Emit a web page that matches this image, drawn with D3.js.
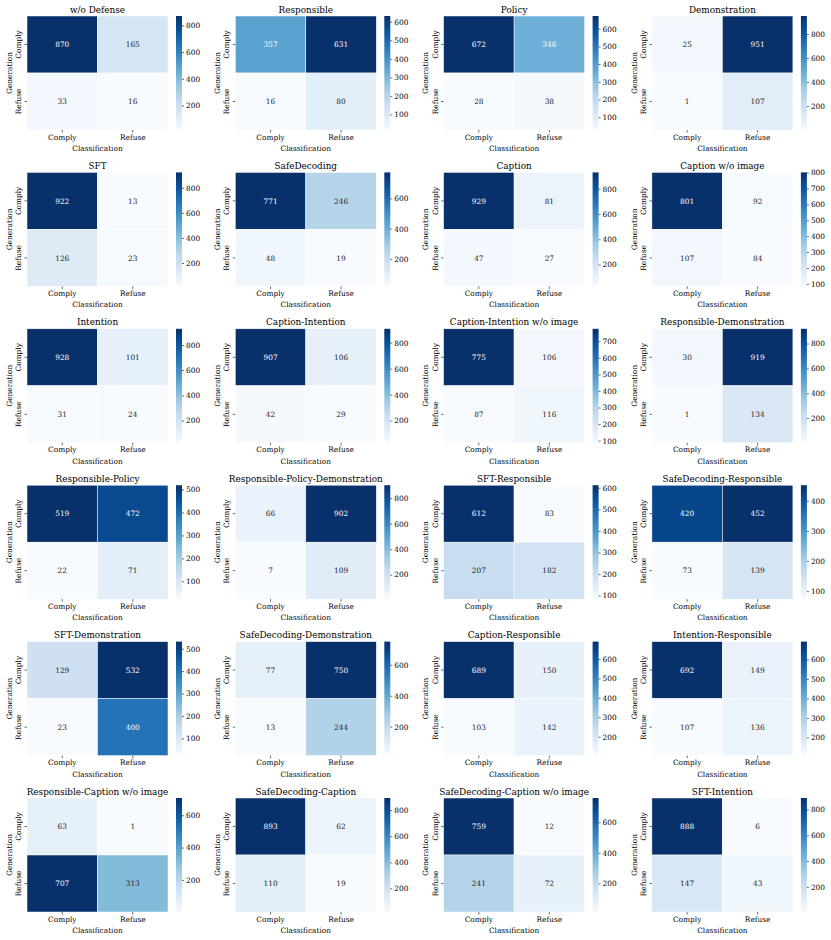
<!DOCTYPE html>
<html>
<head>
<meta charset="utf-8">
<script src="https://cdn.jsdelivr.net/npm/d3@7"></script>
<style>
  body { margin: 0; background: #fff; }
  svg { display: block; font-family: "DejaVu Serif", serif; }
</style>
</head>
<body>
<svg id="chart"></svg>
<script>
// Panel titles (row by row)
const titles = [
    "w/o Defense", "Responsible", "Policy", "Demonstration",
    "SFT", "SafeDecoding", "Caption", "Caption w/o image",
    "Intention", "Caption-Intention", "Caption-Intention w/o image", "Responsible-Demonstration",
    "Responsible-Policy", "Responsible-Policy-Demonstration", "SFT-Responsible", "SafeDecoding-Responsible",
    "SFT-Demonstration", "SafeDecoding-Demonstration", "Caption-Responsible", "Intention-Responsible",
    "Responsible-Caption w/o image", "SafeDecoding-Caption", "SafeDecoding-Caption w/o image", "SFT-Intention"
];

// Confusion counts: [Comply/Comply, Comply/Refuse, Refuse/Comply, Refuse/Refuse]
const counts = [
    [870, 165, 33, 16], [357, 631, 16, 80], [672, 346, 28, 38], [25, 951, 1, 107],
    [922, 13, 126, 23], [771, 246, 48, 19], [929, 81, 47, 27], [801, 92, 107, 84],
    [928, 101, 31, 24], [907, 106, 42, 29], [775, 106, 87, 116], [30, 919, 1, 134],
    [519, 472, 22, 71], [66, 902, 7, 109], [612, 83, 207, 182], [420, 452, 73, 139],
    [129, 532, 23, 400], [77, 750, 13, 244], [689, 150, 103, 142], [692, 149, 107, 136],
    [63, 1, 707, 313], [893, 62, 110, 19], [759, 12, 241, 72], [888, 6, 147, 43]
];

// Colorbar tick labels for each panel
const cbarTicks = [
    [200, 400, 600, 800], [100, 200, 300, 400, 500, 600], [100, 200, 300, 400, 500, 600], [200, 400, 600, 800],
    [200, 400, 600, 800], [200, 400, 600], [200, 400, 600, 800], [100, 200, 300, 400, 500, 600, 700, 800],
    [200, 400, 600, 800], [200, 400, 600, 800], [100, 200, 300, 400, 500, 600, 700], [200, 400, 600, 800],
    [100, 200, 300, 400, 500], [200, 400, 600, 800], [100, 200, 300, 400, 500, 600], [100, 200, 300, 400],
    [100, 200, 300, 400, 500], [200, 400, 600], [200, 300, 400, 500, 600], [200, 300, 400, 500, 600],
    [200, 400, 600], [200, 400, 600, 800], [200, 400, 600], [200, 400, 600, 800]
];

const rowLabels = ["Comply", "Refuse"];   // Generation
const colLabels = ["Comply", "Refuse"];   // Classification

// Layout
const W = 831, H = 940;
const nCols = 4;
const mapW = 141, mapH = 114;
const left0 = 27, top0 = 16;
const colStep = 208.3, rowStep = 156.4;
const cbarGap = 8, cbarW = 6;
const tickFont = 7.4, titleFont = 8.9;

const blues = d3.schemeBlues[9];

const svg = d3.select("#chart")
    .attr("width", W)
    .attr("height", H);

// vertical gradient for the colorbars (same colormap for all)
const grad = svg.append("defs").append("linearGradient")
    .attr("id", "blues-grad")
    .attr("x1", 0).attr("y1", 1).attr("x2", 0).attr("y2", 0);
blues.forEach((c, i) => {
    grad.append("stop")
        .attr("offset", (i / (blues.length - 1) * 100) + "%")
        .attr("stop-color", c);
});

// seaborn picks the annotation colour from the luminance of the cell
function luminance(col) {
    const c = d3.rgb(col);
    const lin = v => {
        v = v / 255;
        return v <= 0.03928 ? v / 12.92 : Math.pow((v + 0.055) / 1.055, 2.4);
    };
    return 0.2126 * lin(c.r) + 0.7152 * lin(c.g) + 0.0722 * lin(c.b);
}

titles.forEach((title, k) => {
    const vals = counts[k];
    const ci = k % nCols, ri = Math.floor(k / nCols);
    const g = svg.append("g")
        .attr("transform", `translate(${left0 + ci * colStep},${top0 + ri * rowStep})`);

    const vmin = d3.min(vals), vmax = d3.max(vals);
    const color = d3.scaleLinear()
        .domain(blues.map((_, i) => vmin + i * (vmax - vmin) / (blues.length - 1)))
        .range(blues);

    const x = d3.scaleBand().domain(colLabels).range([0, mapW]);
    const y = d3.scaleBand().domain(rowLabels).range([0, mapH]);

    const cells = [];
    rowLabels.forEach((r, i) => colLabels.forEach((c, j) => {
        cells.push({ row: r, col: c, value: vals[i * 2 + j] });
    }));

    // heatmap cells
    g.selectAll(".cell")
        .data(cells)
        .enter().append("rect")
        .attr("class", "cell")
        .attr("x", d => x(d.col))
        .attr("y", d => y(d.row))
        .attr("width", x.bandwidth())
        .attr("height", y.bandwidth())
        .attr("fill", d => color(d.value))
        .attr("stroke", "#fff")
        .attr("stroke-width", 0.5);

    // annotations
    g.selectAll(".annot")
        .data(cells)
        .enter().append("text")
        .attr("class", "annot")
        .attr("x", d => x(d.col) + x.bandwidth() / 2)
        .attr("y", d => y(d.row) + y.bandwidth() / 2)
        .attr("dy", "0.36em")
        .attr("text-anchor", "middle")
        .style("font-size", tickFont + "px")
        .style("fill", d => luminance(color(d.value)) > 0.408 ? "#262626" : "#fff")
        .text(d => d.value);

    // x axis
    const xAxis = g.append("g")
        .attr("transform", `translate(0,${mapH})`)
        .call(d3.axisBottom(x).tickSize(2.5).tickPadding(1.8));
    xAxis.select(".domain").remove();
    xAxis.selectAll("line").attr("stroke", "#000").attr("stroke-width", 0.6);
    xAxis.selectAll("text")
        .attr("fill", "#000")
        .style("font-size", tickFont + "px")
        .style("font-family", "DejaVu Serif");

    // y axis with rotated labels
    const yAxis = g.append("g")
        .call(d3.axisLeft(y).tickSize(2.5));
    yAxis.select(".domain").remove();
    yAxis.selectAll("line").attr("stroke", "#000").attr("stroke-width", 0.6);
    yAxis.selectAll("text")
        .attr("x", null)
        .attr("dy", null)
        .attr("text-anchor", "middle")
        .attr("transform", "translate(-6,0) rotate(-90)")
        .attr("fill", "#000")
        .style("font-size", tickFont + "px")
        .style("font-family", "DejaVu Serif");

    // axis titles
    g.append("text")
        .attr("x", mapW / 2)
        .attr("y", mapH + 21)
        .attr("text-anchor", "middle")
        .style("font-size", tickFont + "px")
        .text("Classification");

    g.append("text")
        .attr("transform", `translate(-15.3,${mapH / 2}) rotate(-90)`)
        .attr("text-anchor", "middle")
        .style("font-size", tickFont + "px")
        .text("Generation");

    // panel title
    g.append("text")
        .attr("x", mapW / 2)
        .attr("y", -3.5)
        .attr("text-anchor", "middle")
        .style("font-size", titleFont + "px")
        .text(title);

    // colorbar
    const cb = g.append("g").attr("transform", `translate(${mapW + cbarGap},0)`);
    cb.append("rect")
        .attr("width", cbarW)
        .attr("height", mapH)
        .attr("fill", "url(#blues-grad)");

    const cbScale = d3.scaleLinear().domain([vmin, vmax]).range([mapH, 0]);
    const cbAxis = cb.append("g")
        .attr("transform", `translate(${cbarW},0)`)
        .call(d3.axisRight(cbScale).tickValues(cbarTicks[k]).tickSize(2).tickPadding(2));
    cbAxis.select(".domain").remove();
    cbAxis.selectAll("line").attr("stroke", "#000").attr("stroke-width", 0.6);
    cbAxis.selectAll("text")
        .attr("fill", "#000")
        .style("font-size", tickFont + "px")
        .style("font-family", "DejaVu Serif");
});
</script>
</body>
</html>
